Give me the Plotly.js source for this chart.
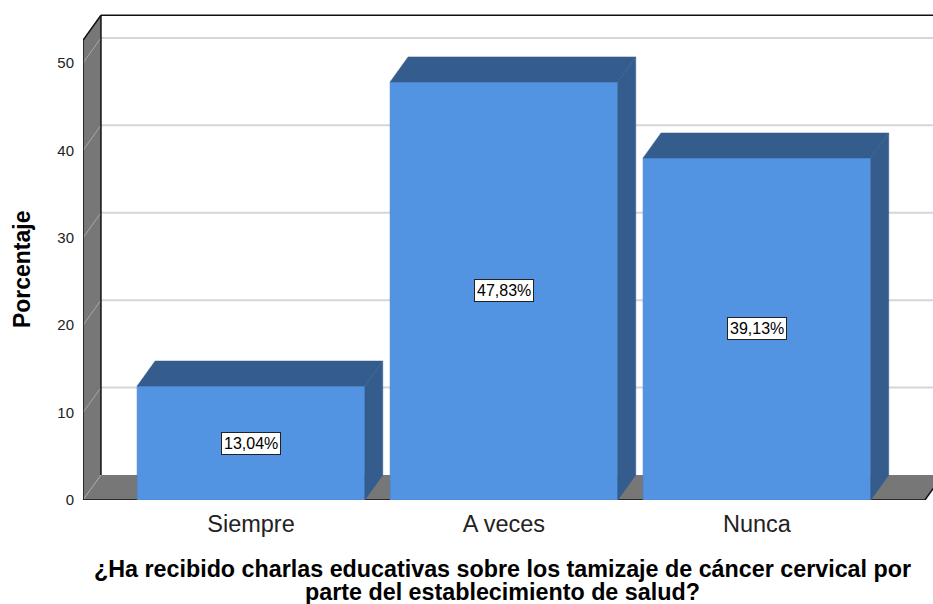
<!DOCTYPE html>
<html>
<head>
<meta charset="utf-8">
<script src="https://cdn.plot.ly/plotly-3.0.1.min.js"></script>
<style>html,body{margin:0;padding:0;background:#fff;}#chart{width:933px;height:604px;}</style>
</head>
<body>
<div id="chart"></div>
<script>
// ---- data ----
const categories = ['Siempre', 'A veces', 'Nunca'];
const percentages = [13.04, 47.83, 39.13];
const valueLabels = ['13,04%', '47,83%', '39,13%'];
const yTickValues = [0, 10, 20, 30, 40, 50];
const yTickLabels = ['0', '10', '20', '30', '40', '50'];
const xTitleLines = ['¿Ha recibido charlas educativas sobre los tamizaje de cáncer cervical por',
                     'parte del establecimiento de salud?'];
const yTitle = 'Porcentaje';

// ---- style / geometry ----
const FRONT = '#5294E2', DARK = '#345C8D', WALL = '#777777', GRID = '#d6d6d6';
const FONT = 'Arial, "Liberation Sans", sans-serif';
const BAR_W = 0.9;
const X_MIN = -0.664, X_FLOOR_END = 2.664, X_MAX = 2.696;
const Y_MAX = 55.6, WALL_TOP = 52.6;
const DX = 0.071, DY = 2.86;   // depth offsets in axis units

const traces = [];
traces.push({
  type: 'bar', x: categories.map((c, i) => i), y: percentages, width: BAR_W,
  marker: {color: FRONT, line: {color: '#4a84cc', width: 0.6}},
  hoverinfo: 'skip', showlegend: false
});
percentages.forEach((v, i) => {
  const l = i - BAR_W / 2, r = i + BAR_W / 2;
  traces.push({ // side face
    type: 'scatter', mode: 'lines', fill: 'toself', fillcolor: DARK,
    x: [r, r + DX, r + DX, r, r], y: [0, DY, v + DY, v, 0],
    line: {color: DARK, width: 0.5}, hoverinfo: 'skip', showlegend: false
  });
  traces.push({ // top face
    type: 'scatter', mode: 'lines', fill: 'toself', fillcolor: DARK,
    x: [l, l + DX, r + DX, r, l], y: [v, v + DY, v + DY, v, v],
    line: {color: DARK, width: 0.5}, hoverinfo: 'skip', showlegend: false
  });
});

const shapes = [];
// back-wall gridlines
yTickValues.filter(v => v > 0).forEach(v => {
  shapes.push({type: 'line', layer: 'below', xref: 'x', yref: 'y',
    x0: X_MIN + DX, x1: X_MAX, y0: v + DY, y1: v + DY, line: {color: GRID, width: 2}});
});
// left wall
shapes.push({type: 'path', layer: 'below', xref: 'x', yref: 'y',
  path: `M ${X_MIN},0 L ${X_MIN},${WALL_TOP} L ${X_MIN + DX},${WALL_TOP + DY} L ${X_MIN + DX},${DY} Z`,
  fillcolor: WALL, line: {width: 0}});
// floor
shapes.push({type: 'path', layer: 'below', xref: 'x', yref: 'y',
  path: `M ${X_MIN},0 L ${X_FLOOR_END},0 L ${X_FLOOR_END + DX},${DY} L ${X_MIN + DX},${DY} Z`,
  fillcolor: WALL, line: {width: 0}});
// wall diagonals
yTickValues.forEach(v => {
  shapes.push({type: 'line', layer: 'below', xref: 'x', yref: 'y',
    x0: X_MIN, x1: X_MIN + DX, y0: v, y1: v + DY, line: {color: '#a8a8a8', width: 1}});
});
// dark edges
const edges = [
  [X_MIN, 0, X_MIN, WALL_TOP],
  [X_MIN, WALL_TOP, X_MIN + DX, WALL_TOP + DY],
  [X_MIN + DX, DY, X_MIN + DX, WALL_TOP + DY],
  [X_MIN + DX, WALL_TOP + DY, X_MAX, WALL_TOP + DY],
  [X_MIN, 0, X_FLOOR_END, 0],
  [X_FLOOR_END, 0, X_FLOOR_END + DX, DY]
];
edges.forEach(e => shapes.push({type: 'line', layer: 'below', xref: 'x', yref: 'y',
  x0: e[0], y0: e[1], x1: e[2], y1: e[3], line: {color: '#111', width: 1.5}}));

const annotations = percentages.map((v, i) => ({
  x: i, y: v / 2, xref: 'x', yref: 'y', text: valueLabels[i], showarrow: false,
  font: {family: FONT, size: 16, color: '#000'}, bgcolor: '#fff',
  bordercolor: '#222', borderwidth: 1, borderpad: 2
}));
annotations.push({xref: 'paper', yref: 'paper', x: -0.0718, y: 0.475, text: '<b>' + yTitle + '</b>',
  textangle: -90, showarrow: false, xanchor: 'center', yanchor: 'middle',
  font: {family: FONT, size: 23, color: '#000'}});
annotations.push({xref: 'paper', yref: 'paper', x: 0.4935, y: -0.142, text: '<b>' + xTitleLines[0] + '</b>',
  showarrow: false, xanchor: 'center', yanchor: 'middle', font: {family: FONT, size: 23.3, color: '#000'}});
annotations.push({xref: 'paper', yref: 'paper', x: 0.4935, y: -0.19, text: '<b>' + xTitleLines[1] + '</b>',
  showarrow: false, xanchor: 'center', yanchor: 'middle', font: {family: FONT, size: 23.3, color: '#000'}});

const layout = {
  width: 933, height: 604,
  margin: {l: 83, r: 0, t: 14, b: 104},
  paper_bgcolor: '#fff', plot_bgcolor: '#fff',
  showlegend: false,
  xaxis: {range: [X_MIN, X_MAX], tickvals: categories.map((c, i) => i), ticktext: categories,
    showgrid: false, zeroline: false, showline: false, ticks: '', ticklabelstandoff: 7,
    tickfont: {family: FONT, size: 23.5, color: '#222'}},
  yaxis: {range: [0, Y_MAX], tickvals: yTickValues, ticktext: yTickLabels,
    showgrid: false, zeroline: false, showline: false, ticks: '', ticklabelstandoff: 8,
    tickfont: {family: FONT, size: 15, color: '#222'}},
  shapes: shapes, annotations: annotations
};
Plotly.newPlot('chart', traces, layout, {staticPlot: true, displayModeBar: false});
</script>
</body>
</html>
